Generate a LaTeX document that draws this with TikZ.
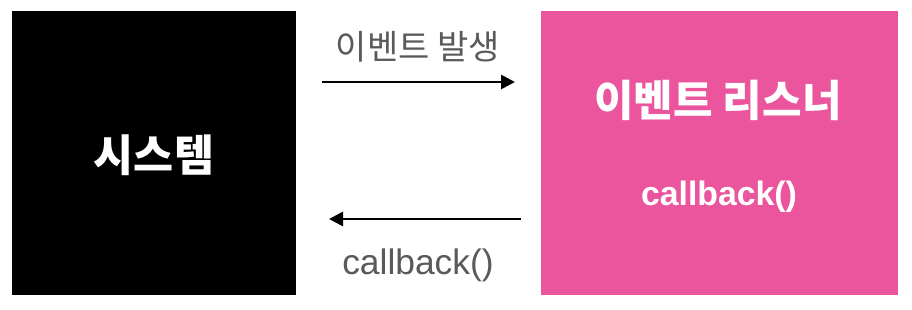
\documentclass[tikz,border=0pt]{standalone}
\usepackage{fontspec}
\setmainfont{Liberation Sans}
\newfontfamily\krfont{Noto Sans CJK KR}
\usetikzlibrary{arrows.meta}
\definecolor{pinkbox}{HTML}{EB559D}
\definecolor{graytext}{HTML}{5A5A5A}
\begin{document}
\begin{tikzpicture}[x=1pt,y=-1pt,
  box/.style={draw=none,inner sep=0pt,anchor=north west},
  graylbl/.style={text=graytext,inner sep=0pt},
  whitelbl/.style={text=white,inner sep=0pt},
  conn/.style={line width=2.8pt,-{Triangle[length=14pt,width=14pt]}}]
\useasboundingbox (0,0) rectangle (912,310);
\fill[white] (0,0) rectangle (912,310);
\node[box,fill=black,minimum width=284pt,minimum height=284pt] (sys) at (12,11) {};
\node[box,fill=pinkbox,minimum width=357pt,minimum height=284pt] (lis) at (541,11) {};
\node[whitelbl,font=\krfont\bfseries\fontsize{43.5}{46}\selectfont] (systxt) at (154,155) {시스템};
\node[whitelbl,font=\krfont\bfseries\fontsize{43}{46}\selectfont] (listxt) at (718,100) {이벤트 리스너};
\node[whitelbl,font=\bfseries\fontsize{33.8}{38}\selectfont] (cbin) at (719,197) {callback()};
\node[graylbl,font=\krfont\fontsize{34}{36}\selectfont] (evt) at (418,47) {이벤트 발생};
\node[graylbl,font=\fontsize{35.4}{38}\selectfont] (cbout) at (418,265) {callback()};
\coordinate (a1) at (322,82);
\coordinate (a2) at (515,82);
\coordinate (b1) at (521,219);
\coordinate (b2) at (329,219);
\draw[conn] (a1) -- (a2);
\draw[conn] (b1) -- (b2);
\end{tikzpicture}
\end{document}
